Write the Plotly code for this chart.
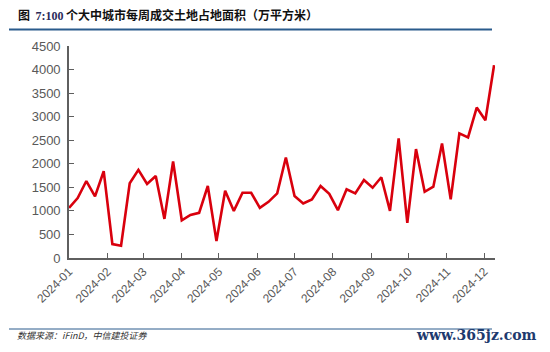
import plotly.graph_objects as go
import pandas as pd

# ---- data ----
start_date = "2024-01-01"
n_weeks = 50
values = [1064, 1271, 1634, 1307, 1842, 295, 261, 1585, 1870, 1570,
          1741, 830, 2048, 801, 915, 958, 1528, 359, 1428, 1000,
          1385, 1385, 1064, 1192, 1372, 2133, 1314, 1158, 1244, 1528,
          1363, 1015, 1457, 1372, 1656, 1492, 1714, 1000, 2538, 744,
          2312, 1406, 1513, 2432, 1244, 2645, 2560, 3194, 2923, 4092]
dates = pd.date_range(start_date, periods=n_weeks, freq="7D")
tick_dates = pd.date_range("2024-01-01", "2024-12-01", freq="MS")
tick_labels = [d.strftime("%Y-%m") for d in tick_dates]
y_ticks = [0, 500, 1000, 1500, 2000, 2500, 3000, 3500, 4000, 4500]

title_prefix = "图"
title_num = "7:100"
title_rest = "个大中城市每周成交土地占地面积（万平方米）"
source_text = "数据来源：iFinD，中信建投证券"
watermark = "www.365jz.com"

# ---- layout geometry (pixels) ----
W, H = 550, 352
L, R, T, B = 69, 55, 46, 94
PW, PH = W - L - R, H - T - B

def px(x):
    return (x - L) / PW

def py(y):
    return (H - B - y) / PH

fig = go.Figure()
fig.add_trace(go.Scatter(
    x=dates, y=values, mode="lines",
    line=dict(color="#D9000D", width=2.6),
    hoverinfo="skip", showlegend=False,
))

axis_color = "#5f5f5f"
fig.update_layout(
    width=W, height=H,
    margin=dict(l=L, r=R, t=T, b=B),
    paper_bgcolor="white", plot_bgcolor="white",
    font=dict(family="Liberation Sans, Arial", color="#595959"),
    xaxis=dict(
        range=[dates[0], dates[-1] + pd.Timedelta(hours=18)],
        tickvals=tick_dates, ticktext=tick_labels,
        tickangle=-45, tickfont=dict(size=12, color="#595959"),
        ticks="inside", ticklen=5, tickcolor=axis_color, tickwidth=1.2,
        showline=True, linecolor=axis_color, linewidth=1.6,
        showgrid=False, zeroline=False,
    ),
    yaxis=dict(
        range=[0, 4500], tickvals=y_ticks,
        tickfont=dict(size=13, color="#595959"),
        ticks="inside", ticklen=5, tickcolor=axis_color, tickwidth=1.2,
        showline=True, linecolor=axis_color, linewidth=1.6,
        showgrid=False, zeroline=False, ticklabelstandoff=4,
    ),
)

line_color = "#2A5B8C"
fig.add_shape(type="line", xref="paper", yref="paper",
              x0=px(9), x1=px(492), y0=py(29.5), y1=py(29.5),
              line=dict(color=line_color, width=2.2))
fig.add_shape(type="line", xref="paper", yref="paper",
              x0=px(9), x1=px(492), y0=py(329), y1=py(329),
              line=dict(color=line_color, width=1))

fig.add_annotation(
    xref="paper", yref="paper", x=px(16), y=py(14),
    xanchor="left", yanchor="middle", showarrow=False,
    text=("<b>" + title_prefix + "</b>&nbsp;&nbsp;"
          + "<span style='font-family:Liberation Serif;color:#2b2b5a'><b>" + title_num + "</b></span>"
          + " <b>" + title_rest + "</b>"),
    font=dict(family="Noto Sans CJK SC", size=12, color="#111111"),
)
fig.add_annotation(
    xref="paper", yref="paper", x=px(15), y=py(335),
    xanchor="left", yanchor="middle", showarrow=False,
    text="<i>" + source_text + "</i>",
    font=dict(family="Noto Sans CJK SC", size=9, color="#333333"),
)
fig.add_annotation(
    xref="paper", yref="paper", x=px(539), y=py(335),
    xanchor="right", yanchor="middle", showarrow=False,
    text="<b>" + watermark + "</b>",
    font=dict(family="DejaVu Serif", size=14, color="#1E3A6E"),
)

fig.write_html("out.html")
